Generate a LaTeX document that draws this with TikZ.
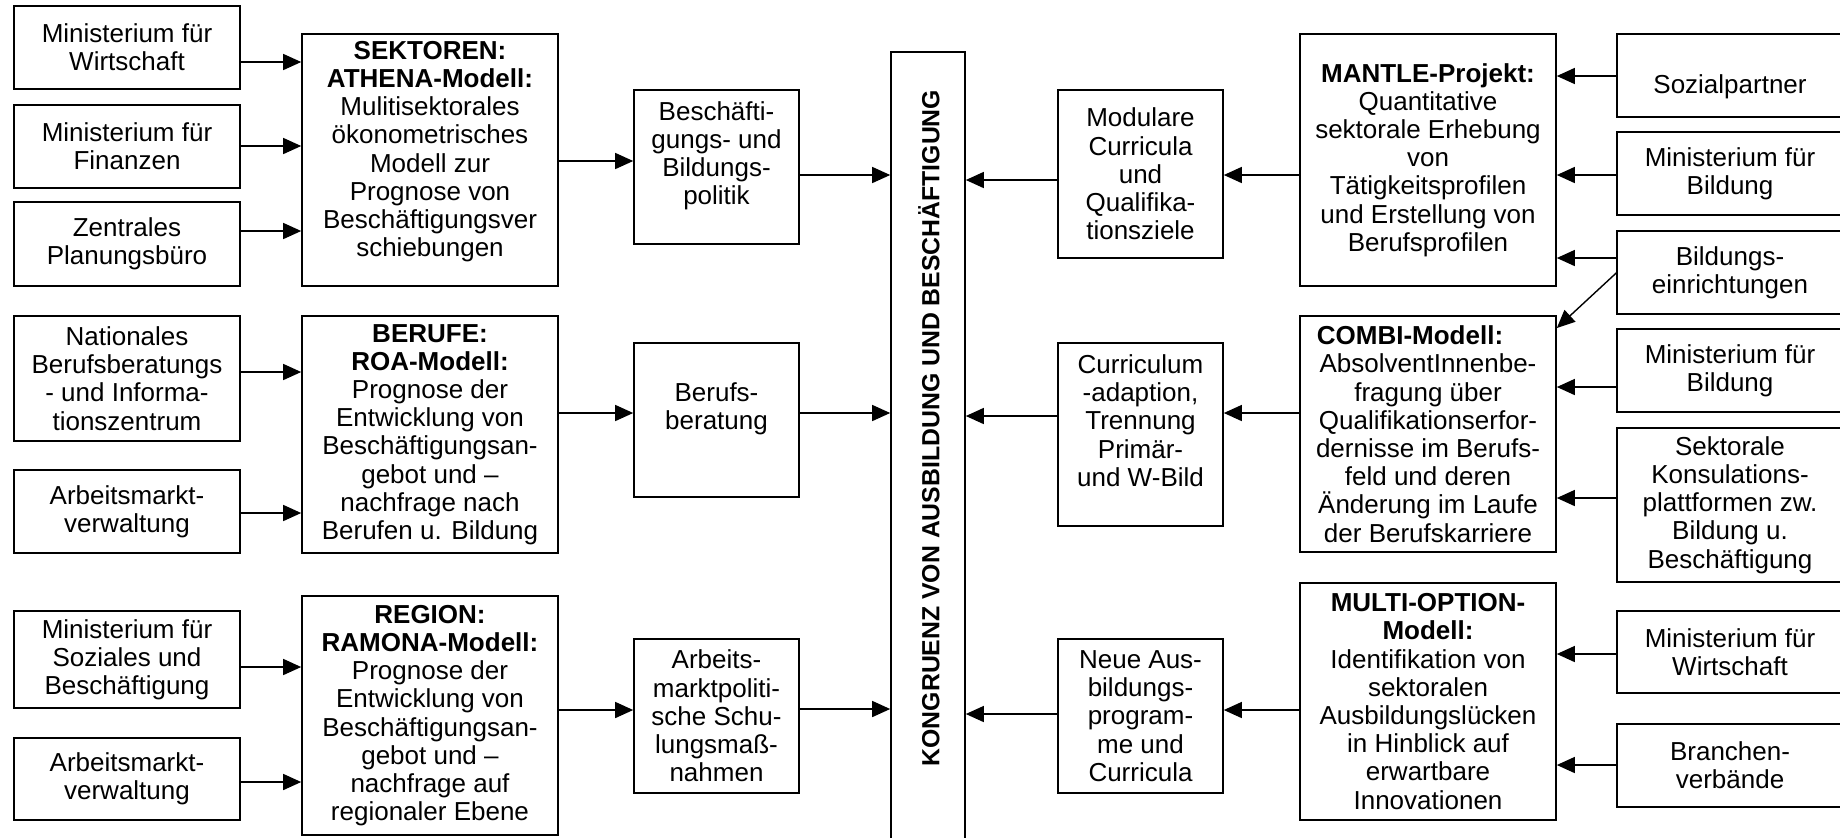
\documentclass[tikz,border=0pt]{standalone}
\usepackage{fontspec}
\setmainfont{Liberation Sans}
\usetikzlibrary{arrows.meta}
\newcommand\drawbox[7][]{%
  \node[box,minimum width={(#5-#3)*0.5pt},minimum height={(#6-#4)*0.5pt},#1] (#2) at ({(#3+#5)/2},{(#4+#6)/2}) {#7};}
\begin{document}
\begin{tikzpicture}[x=0.5pt,y=-0.5pt,
  box/.style={draw,line width=0.8pt,align=center,inner sep=0pt,font=\fontsize{13}{14.1}\selectfont},
  arr/.style={-{Triangle[length=9pt,width=8pt]},line width=0.7pt},
  vtitle/.style={rotate=90,inner sep=0pt,font=\bfseries\fontsize{12.4}{13.5}\selectfont}]
\useasboundingbox (0,0) rectangle (1840,837);
\clip (0,0) rectangle (1840,837);
\fill[white] (0,0) rectangle (1840,837);

% left sources
\drawbox{L1}{14}{6}{240}{89}{Ministerium für\\Wirtschaft}
\drawbox{L2}{14}{105}{240}{188}{Ministerium für\\Finanzen}
\drawbox{L3}{14}{202}{240}{286}{Zentrales\\Planungsbüro}
\drawbox{L4}{14}{316}{240}{441}{Nationales\\Berufsberatungs\\- und Informa-\\tionszentrum}
\drawbox{L5}{14}{470}{240}{553}{Arbeitsmarkt-\\verwaltung}
\drawbox{L6}{14}{611}{240}{708}{Ministerium für\\Soziales und\\Beschäftigung}
\drawbox{L7}{14}{738}{240}{820}{Arbeitsmarkt-\\verwaltung}

% left models
\drawbox{M1}{302}{34}{558}{286}{\textbf{SEKTOREN:}\\\textbf{ATHENA-Modell:}\\Mulitisektorales\\ökonometrisches\\Modell zur\\Prognose von\\Beschäftigungsver\\schiebungen\\[-3pt]\mbox{}}
\drawbox{M2}{302}{316}{558}{553}{\textbf{BERUFE:}\\\textbf{ROA-Modell:}\\Prognose der\\Entwicklung von\\Beschäftigungsan-\\gebot und –\\nachfrage nach\\Berufen u. Bildung}
\drawbox{M3}{302}{596}{558}{835}{\textbf{REGION:}\\\textbf{RAMONA-Modell:}\\Prognose der\\Entwicklung von\\Beschäftigungsan-\\gebot und –\\nachfrage auf\\regionaler Ebene}

% policies
\drawbox{P1}{634}{90}{799}{244}{Beschäfti-\\gungs- und\\Bildungs-\\politik\\\mbox{}}
\drawbox{P2}{634}{343}{799}{497}{Berufs-\\beratung\\\mbox{}}
\drawbox{P3}{634}{639}{799}{793}{Arbeits-\\marktpoliti-\\sche Schu-\\lungsmaß-\\nahmen}

% centre
\drawbox{C}{891}{52}{965}{900}{}
\node[vtitle] (CT) at (929,428) {KONGRUENZ VON AUSBILDUNG UND BESCHÄFTIGUNG};

% right results
\drawbox{R1}{1058}{90}{1223}{258}{Modulare\\Curricula\\und\\Qualifika-\\tionsziele}
\drawbox{R2}{1058}{343}{1223}{526}{Curriculum\\-adaption,\\Trennung\\Primär-\\und W-Bild\\\mbox{}}
\drawbox{R3}{1058}{639}{1223}{793}{Neue Aus-\\bildungs-\\program-\\me und\\Curricula}

% right models
\drawbox{N1}{1300}{34}{1556}{286}{\textbf{MANTLE-Projekt:}\\Quantitative\\sektorale Erhebung\\von\\Tätigkeitsprofilen\\und Erstellung von\\Berufsprofilen}
\drawbox{N2}{1300}{316}{1556}{552}{\textbf{COMBI-Modell:}\hspace*{18pt}\\AbsolventInnenbe-\\fragung über\\Qualifikationserfor-\\dernisse im Berufs-\\feld und deren\\Änderung im Laufe\\der Berufskarriere}
\drawbox{N3}{1300}{583}{1556}{820}{\textbf{MULTI-OPTION-}\\\textbf{Modell:}\\Identifikation von\\sektoralen\\Ausbildungslücken\\in Hinblick auf\\erwartbare\\Innovationen}

% right sources
\drawbox{S1}{1617}{34}{1843}{117}{\mbox{}\\[7pt]Sozialpartner}
\drawbox{S2}{1617}{132}{1843}{215}{Ministerium für\\Bildung}
\drawbox{S3}{1617}{231}{1843}{314}{Bildungs-\\einrichtungen}
\drawbox{S4}{1617}{329}{1843}{412}{Ministerium für\\Bildung}
\drawbox{S5}{1617}{428}{1843}{582}{Sektorale\\Konsulations-\\plattformen zw.\\Bildung u.\\Beschäftigung}
\drawbox{S6}{1617}{611}{1843}{693}{Ministerium für\\Wirtschaft}
\drawbox{S7}{1617}{724}{1843}{807}{Branchen-\\verbände}

% left arrows
\draw[arr] (L1.east |- 0,62) -- (M1.west |- 0,62);
\draw[arr] (L2.east |- 0,146) -- (M1.west |- 0,146);
\draw[arr] (L3.east |- 0,231) -- (M1.west |- 0,231);
\draw[arr] (L4.east |- 0,372) -- (M2.west |- 0,372);
\draw[arr] (L5.east |- 0,513) -- (M2.west |- 0,513);
\draw[arr] (L6.east |- 0,667) -- (M3.west |- 0,667);
\draw[arr] (L7.east |- 0,782) -- (M3.west |- 0,782);

\draw[arr] (M1.east |- 0,161) -- (P1.west |- 0,161);
\draw[arr] (M2.east |- 0,413) -- (P2.west |- 0,413);
\draw[arr] (M3.east |- 0,710) -- (P3.west |- 0,710);

\draw[arr] (P1.east |- 0,175) -- (C.west |- 0,175);
\draw[arr] (P2.east |- 0,413) -- (C.west |- 0,413);
\draw[arr] (P3.east |- 0,709) -- (C.west |- 0,709);

% right arrows
\draw[arr] (R1.west |- 0,180) -- (C.east |- 0,180);
\draw[arr] (R2.west |- 0,416) -- (C.east |- 0,416);
\draw[arr] (R3.west |- 0,714) -- (C.east |- 0,714);

\draw[arr] (N1.west |- 0,175) -- (R1.east |- 0,175);
\draw[arr] (N2.west |- 0,413) -- (R2.east |- 0,413);
\draw[arr] (N3.west |- 0,710) -- (R3.east |- 0,710);

\draw[arr] (S1.west |- 0,76) -- (N1.east |- 0,76);
\draw[arr] (S2.west |- 0,175) -- (N1.east |- 0,175);
\draw[arr] (S3.west |- 0,258) -- (N1.east |- 0,258);
\draw[arr] (S3.west |- 0,273) -- (N2.east |- 0,328);
\draw[arr] (S4.west |- 0,387) -- (N2.east |- 0,387);
\draw[arr] (S5.west |- 0,498) -- (N2.east |- 0,498);
\draw[arr] (S6.west |- 0,654) -- (N3.east |- 0,654);
\draw[arr] (S7.west |- 0,765) -- (N3.east |- 0,765);
\end{tikzpicture}
\end{document}
